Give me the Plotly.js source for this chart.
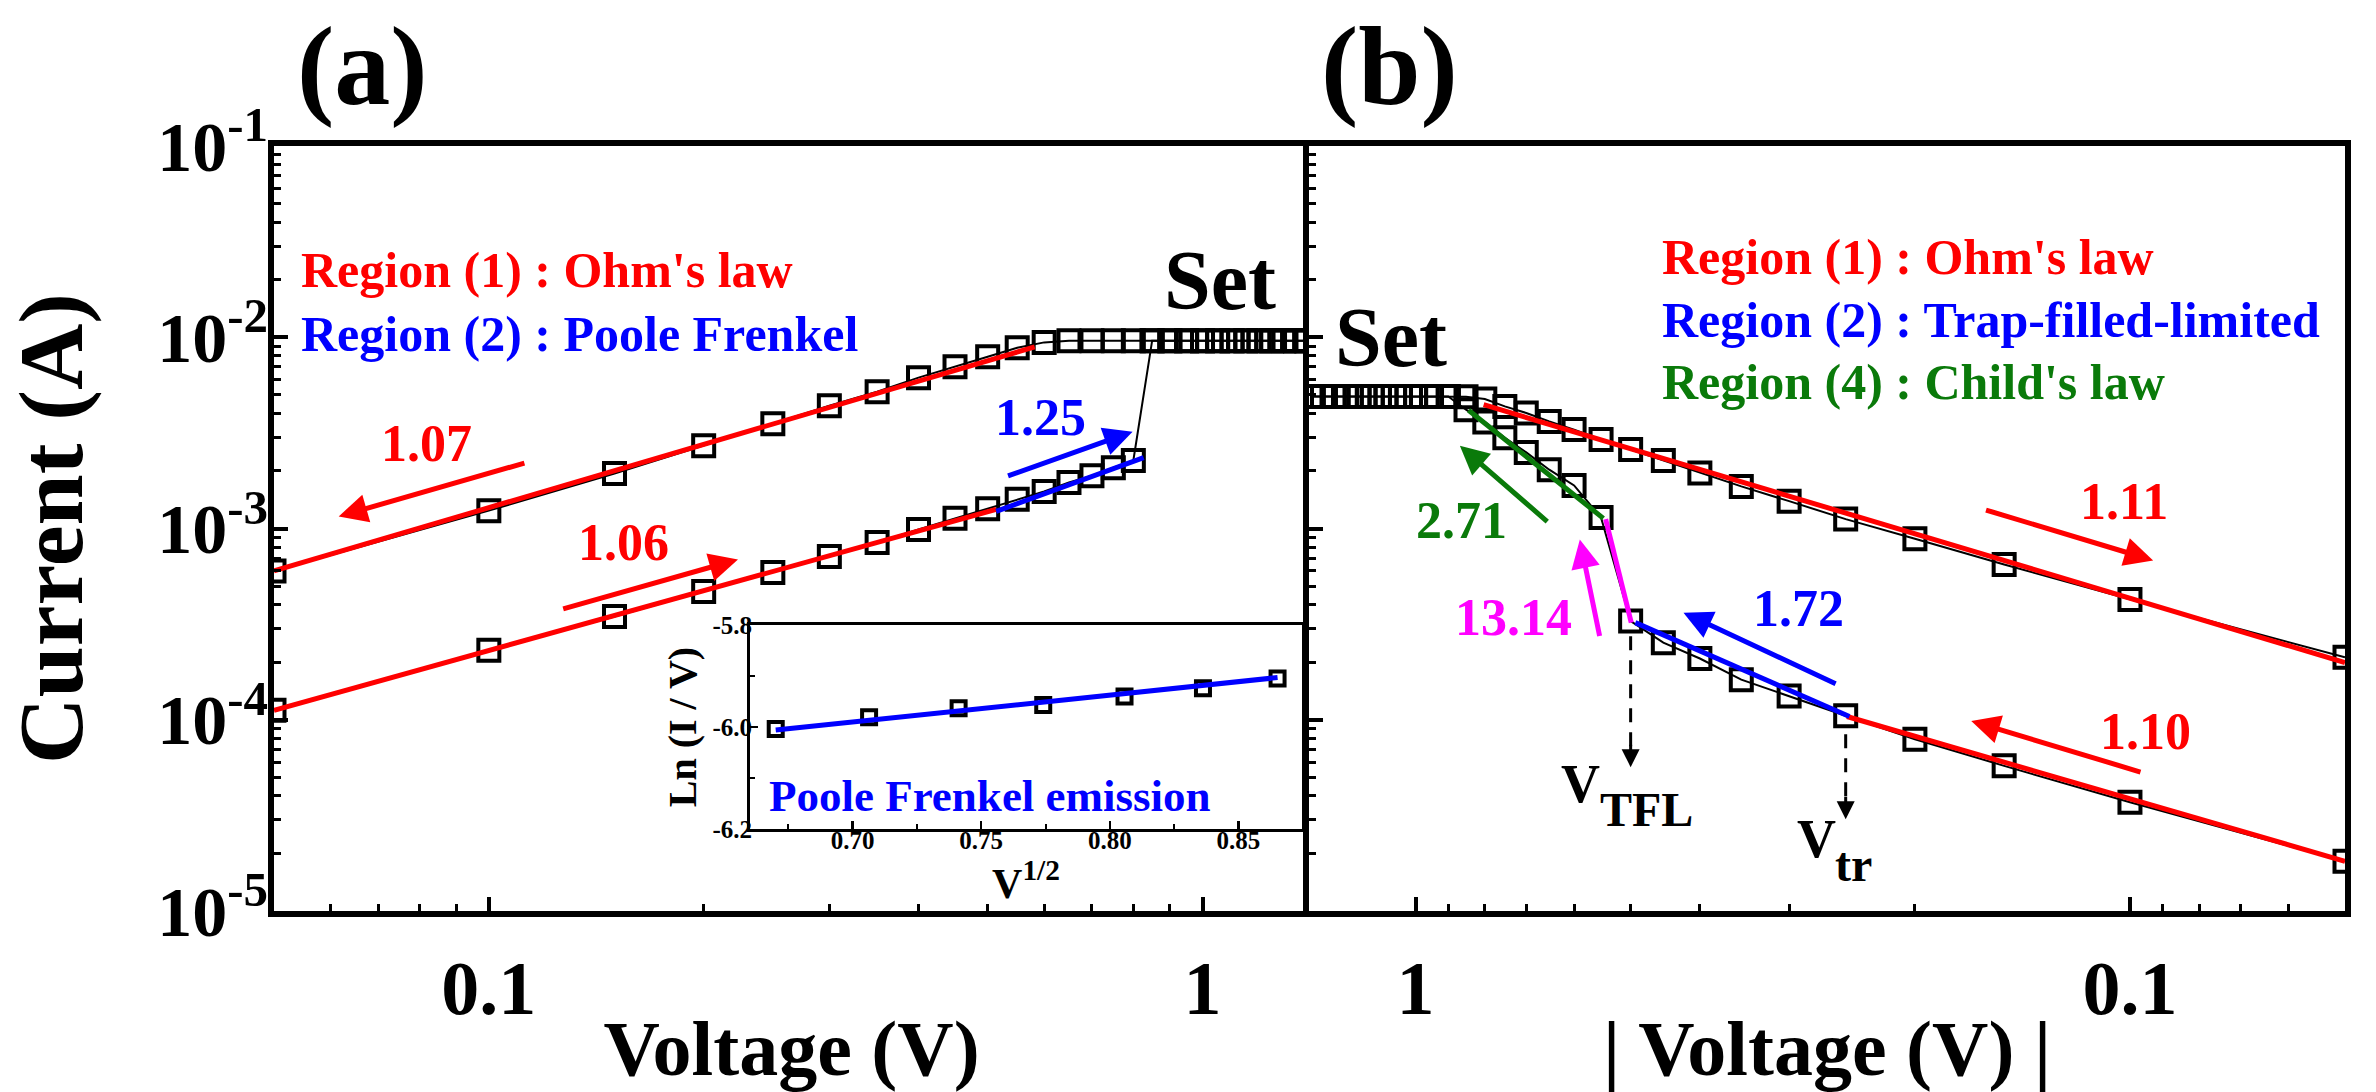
<!DOCTYPE html>
<html>
<head>
<meta charset="utf-8">
<script src="https://cdn.plot.ly/plotly-3.0.1.min.js"></script>
<style>
html,body{margin:0;padding:0;background:#ffffff;}
#chart{width:2376px;height:1092px;}
</style>
</head>
<body>
<div id="chart"></div>
<script>
// ---------------- DATA ----------------
// Panel (a): forward sweep (lower branch, then compliance at Set)
const aForwardV = [0.05,0.10,0.15,0.20,0.25,0.30,0.35,0.40,0.45,0.50,0.55,0.60,0.65,0.70,0.75,0.80,
                   0.85,0.90,0.95,1.00,1.05,1.10,1.15,1.20,1.25,1.30,1.35,1.40];
const aForwardI = [1.12e-4,2.31e-4,3.47e-4,4.69e-4,5.89e-4,7.14e-4,8.45e-4,9.88e-4,1.13e-3,1.27e-3,1.42e-3,1.56e-3,1.74e-3,1.89e-3,2.08e-3,2.27e-3,
                   9.6e-3,9.6e-3,9.6e-3,9.6e-3,9.6e-3,9.6e-3,9.6e-3,9.6e-3,9.6e-3,9.6e-3,9.6e-3,9.6e-3];
// Panel (a): reverse sweep (compliance, then upper branch)
const aReverseV = [1.40,1.35,1.30,1.25,1.20,1.15,1.10,1.05,1.00,0.95,0.90,0.85,0.80,0.75,0.70,0.65,
                   0.60,0.55,0.50,0.45,0.40,0.35,0.30,0.25,0.20,0.15,0.10,0.05];
const aReverseI = [9.6e-3,9.6e-3,9.6e-3,9.6e-3,9.6e-3,9.6e-3,9.6e-3,9.6e-3,9.6e-3,9.6e-3,9.6e-3,9.6e-3,9.6e-3,9.6e-3,9.6e-3,9.6e-3,
                   9.4e-3,8.81e-3,7.91e-3,7.02e-3,6.15e-3,5.19e-3,4.38e-3,3.53e-3,2.71e-3,1.94e-3,1.24e-3,6.0e-4];
// Panel (a) fits
const aOhmUpV = [0.05, 0.582];  const aOhmUpI = [6.0e-4, 8.9e-3];
const aOhmLowV = [0.05, 0.514]; const aOhmLowI = [1.12e-4, 1.26e-3];
const aPfV = [0.514, 0.827];    const aPfI = [1.23e-3, 2.35e-3];
// Panel (a) slope arrows: [1.07, 1.06, 1.25]
const aArrowTailV = [0.1127, 0.1265, 0.5314]; const aArrowTailI = [2.21e-3, 3.78e-4, 1.87e-3];
const aArrowHeadV = [0.0616, 0.2234, 0.798];  const aArrowHeadI = [1.156e-3, 6.89e-4, 3.21e-3];
const aArrowColor = ['#ff0000', '#ff0000', '#0000ff'];
// Inset: Poole-Frenkel plot
const insetSqrtV = [0.6701, 0.7064, 0.7412, 0.7741, 0.8057, 0.8362, 0.8652];
const insetLnIV  = [-6.004, -5.981, -5.963, -5.957, -5.940, -5.924, -5.905];
const insetFitX = [0.6701, 0.8652]; const insetFitY = [-6.006, -5.903];

// Panel (b): forward sweep (lower branch, then compliance)
const bForwardV = [0.05,0.10,0.15,0.20,0.25,0.30,0.35,0.40,0.45,0.50,0.55,0.60,0.65,0.70,0.75,0.80,0.85,
                   0.90,0.95,1.00,1.05,1.10,1.15,1.20,1.25,1.30,1.35,1.40];
const bForwardI = [1.82e-5,3.70e-5,5.74e-5,7.91e-5,1.05e-4,1.33e-4,1.62e-4,2.09e-4,2.53e-4,3.28e-4,1.14e-3,1.68e-3,2.03e-3,2.50e-3,2.98e-3,3.61e-3,4.18e-3,
                   4.9e-3,4.9e-3,4.9e-3,4.9e-3,4.9e-3,4.9e-3,4.9e-3,4.9e-3,4.9e-3,4.9e-3,4.9e-3];
// Panel (b): reverse sweep (compliance, then upper branch)
const bReverseV = [1.40,1.35,1.30,1.25,1.20,1.15,1.10,1.05,1.00,0.95,0.90,0.85,
                   0.80,0.75,0.70,0.65,0.60,0.55,0.50,0.45,0.40,0.35,0.30,0.25,0.20,0.15,0.10,0.05];
const bReverseI = [4.9e-3,4.9e-3,4.9e-3,4.9e-3,4.9e-3,4.9e-3,4.9e-3,4.9e-3,4.9e-3,4.9e-3,4.9e-3,4.88e-3,
                   4.75e-3,4.35e-3,4.02e-3,3.63e-3,3.29e-3,2.92e-3,2.59e-3,2.27e-3,1.95e-3,1.66e-3,1.39e-3,1.12e-3,8.84e-4,6.48e-4,4.26e-4,2.12e-4];
// Panel (b) fits
const bOhmUpV = [0.803, 0.05];   const bOhmUpI = [4.44e-3, 1.99e-4];
const bOhmLowV = [0.249, 0.05];  const bOhmLowI = [1.04e-4, 1.82e-5];
const bTflV = [0.4925, 0.247];   const bTflI = [3.22e-4, 1.04e-4];
const bChildV = [0.843, 0.546];  const bChildI = [4.15e-3, 1.13e-3];
const bJumpV = [0.542, 0.499];   const bJumpI = [1.12e-3, 3.22e-4];
// Panel (b) slope arrows: [2.71, 13.14, 1.72, 1.11, 1.10]
const bArrowTailV = [0.651, 0.552, 0.257, 0.1598, 0.0962];
const bArrowTailI = [1.07e-3, 2.69e-4, 1.53e-4, 1.256e-3, 5.30e-5];
const bArrowHeadV = [0.867, 0.589, 0.4217, 0.0928, 0.1668];
const bArrowHeadI = [2.71e-3, 8.77e-4, 3.63e-4, 6.81e-4, 9.86e-5];
const bArrowColor = ['#0a7a0a', '#ff00ff', '#0000ff', '#ff0000', '#ff0000'];
// Panel (b) dashed markers V_TFL and V_tr
const bVtflV = [0.5, 0.5];  const bVtflI = [2.73e-4, 6.3e-5];
const bVtrV = [0.25, 0.25]; const bVtrI = [8.4e-5, 3.4e-5];
const bDashTipI = [5.65e-5, 3.02e-5];

// Tick labels
const yTickVals = [1e-5, 1e-4, 1e-3, 1e-2, 1e-1];
const yTickText = ['10<sup>-5</sup>', '10<sup>-4</sup>', '10<sup>-3</sup>', '10<sup>-2</sup>', '10<sup>-1</sup>'];
const xTickVals = [0.1, 1];
const xTickText = ['0.1', '1'];
const xMinorVals = [0.06, 0.07, 0.08, 0.09, 0.2, 0.3, 0.4, 0.5, 0.6, 0.7, 0.8, 0.9];
const insetXTickVals = [0.70, 0.75, 0.80, 0.85];
const insetXTickText = ['0.70', '0.75', '0.80', '0.85'];
const insetXMinor = [0.675, 0.725, 0.775, 0.825];
const insetYTickVals = [-6.2, -6.0, -5.8];
const insetYTickText = ['-6.2', '-6.0', '-5.8'];
const insetYMinor = [-6.1, -5.9];

// ---------------- STYLE ----------------
const FONT = 'Liberation Serif, Times New Roman, serif';
const W = 2376, H = 1092;
const RED = '#ff0000', BLUE = '#0000ff', GREEN = '#0a7a0a', MAGENTA = '#ff00ff';
const px = v => v / W;
const py = v => 1 - v / H;
const yMinorVals = [];
for (let d = -5; d < -1; d++) for (let k = 2; k <= 9; k++) yMinorVals.push(k * Math.pow(10, d));

const markerStyle = {symbol: 'square-open', size: 21, color: '#000', line: {width: 4, color: '#000'}};
function dataTrace(x, y, xa, ya) {
  return {x, y, xaxis: xa, yaxis: ya, type: 'scatter', mode: 'lines+markers',
          line: {color: '#000', width: 2}, marker: markerStyle, hoverinfo: 'skip'};
}
function lineTrace(x, y, xa, ya, color, width, dash) {
  return {x, y, xaxis: xa, yaxis: ya, type: 'scatter', mode: 'lines',
          line: {color, width, dash: dash || 'solid'}, hoverinfo: 'skip'};
}

const traces = [
  dataTrace(aForwardV, aForwardI, 'x', 'y'),
  dataTrace(aReverseV, aReverseI, 'x', 'y'),
  lineTrace(aOhmUpV, aOhmUpI, 'x', 'y', RED, 5),
  lineTrace(aOhmLowV, aOhmLowI, 'x', 'y', RED, 5),
  lineTrace(aPfV, aPfI, 'x', 'y', BLUE, 5),
  dataTrace(bForwardV, bForwardI, 'x2', 'y2'),
  dataTrace(bReverseV, bReverseI, 'x2', 'y2'),
  lineTrace(bOhmUpV, bOhmUpI, 'x2', 'y2', RED, 5),
  lineTrace(bOhmLowV, bOhmLowI, 'x2', 'y2', RED, 5),
  lineTrace(bTflV, bTflI, 'x2', 'y2', BLUE, 5),
  lineTrace(bChildV, bChildI, 'x2', 'y2', GREEN, 5),
  lineTrace(bJumpV, bJumpI, 'x2', 'y2', MAGENTA, 5),
  lineTrace(bVtflV, bVtflI, 'x2', 'y2', '#000', 3, '14px,10px'),
  lineTrace(bVtrV, bVtrI, 'x2', 'y2', '#000', 3, '14px,10px'),
  {x: insetSqrtV, y: insetLnIV, xaxis: 'x3', yaxis: 'y3', type: 'scatter', mode: 'markers',
   marker: {symbol: 'square-open', size: 14, color: '#000', line: {width: 4, color: '#000'}}, hoverinfo: 'skip'},
  lineTrace(insetFitX, insetFitY, 'x3', 'y3', BLUE, 5)
];

const tickFontBig = {family: FONT, size: 76, color: '#000', weight: 'bold'};
const tickFontY = {family: FONT, size: 70, color: '#000', weight: 'bold'};
const minorLog = (vals) => ({tickmode: 'array', tickvals: vals, ticks: 'inside', ticklen: 7, tickwidth: 3, tickcolor: '#000', showgrid: false});

const yDomain = [1 - 911 / H, 1 - 146 / H];
const baseAxis = {showline: true, linewidth: 6, linecolor: '#000', ticks: 'inside', ticklen: 14, tickwidth: 4,
                  tickcolor: '#000', showgrid: false, zeroline: false};

const layout = {
  width: W, height: H,
  margin: {l: 0, r: 0, t: 0, b: 0, pad: 0},
  paper_bgcolor: '#ffffff', plot_bgcolor: '#ffffff',
  showlegend: false,
  xaxis: Object.assign({}, baseAxis, {
    type: 'log', domain: [px(274), px(1309)], anchor: 'y',
    range: [Math.log10(0.05), Math.log10(1.41)],
    tickmode: 'array', tickvals: xTickVals, ticktext: xTickText, tickfont: tickFontBig,
    minor: minorLog(xMinorVals), mirror: true, ticklabelstandoff: 6,
    title: {text: 'Voltage (V)', font: {family: FONT, size: 78, color: '#000', weight: 'bold'}, standoff: 0}
  }),
  yaxis: Object.assign({}, baseAxis, {
    type: 'log', domain: yDomain, anchor: 'x', range: [-5, -1],
    tickmode: 'array', tickvals: yTickVals, ticktext: yTickText, tickfont: tickFontY,
    minor: minorLog(yMinorVals), mirror: false, ticklabelstandoff: -14,
    title: {text: 'Current (A)', font: {family: FONT, size: 92, color: '#000', weight: 'bold'}, standoff: 52}
  }),
  xaxis2: Object.assign({}, baseAxis, {
    type: 'log', domain: [px(1309), px(2345)], anchor: 'y2',
    range: [Math.log10(1.41), Math.log10(0.05)],
    tickmode: 'array', tickvals: xTickVals, ticktext: xTickText, tickfont: tickFontBig,
    minor: minorLog(xMinorVals), mirror: true, ticklabelstandoff: 6,
    title: {text: '| Voltage (V) |', font: {family: FONT, size: 78, color: '#000', weight: 'bold'}, standoff: 0}
  }),
  yaxis2: Object.assign({}, baseAxis, {
    type: 'log', domain: yDomain, anchor: 'x2', range: [-5, -1],
    tickmode: 'array', tickvals: yTickVals, ticktext: yTickText, showticklabels: false,
    minor: minorLog(yMinorVals), mirror: true
  }),
  xaxis3: {
    domain: [px(750), px(1302)], anchor: 'y3', range: [0.6601, 0.8747],
    showline: true, linewidth: 3, linecolor: '#000', mirror: true, showgrid: false, zeroline: false,
    ticks: 'inside', ticklen: 8, tickwidth: 2.5, tickcolor: '#000',
    tickmode: 'array', tickvals: insetXTickVals, ticktext: insetXTickText,
    tickfont: {family: FONT, size: 25, color: '#000', weight: 'bold'}, ticklabelstandoff: -13,
    minor: {tickmode: 'array', tickvals: insetXMinor, ticks: 'inside', ticklen: 5, tickwidth: 2, tickcolor: '#000', showgrid: false},
    title: {text: 'V<sup>1/2</sup>', font: {family: FONT, size: 42, color: '#000', weight: 'bold'}, standoff: 0}
  },
  yaxis3: {
    domain: [1 - 829 / H, 1 - 625 / H], anchor: 'x3', range: [-6.2, -5.8],
    showline: true, linewidth: 3, linecolor: '#000', mirror: true, showgrid: false, zeroline: false,
    ticks: 'inside', ticklen: 8, tickwidth: 2.5, tickcolor: '#000',
    tickmode: 'array', tickvals: insetYTickVals, ticktext: insetYTickText,
    tickfont: {family: FONT, size: 25, color: '#000', weight: 'bold'}, ticklabelstandoff: -10,
    minor: {tickmode: 'array', tickvals: insetYMinor, ticks: 'inside', ticklen: 5, tickwidth: 2, tickcolor: '#000', showgrid: false},
    title: {text: 'Ln (I / V)', font: {family: FONT, size: 40, color: '#000', weight: 'bold'}, standoff: 4}
  },
  annotations: []
};

function txt(text, x, y, size, color, xanchor) {
  return {text, x: px(x), y: py(y), xref: 'paper', yref: 'paper', showarrow: false,
          xanchor: xanchor || 'center', yanchor: 'middle',
          font: {family: FONT, size, color: color || '#000', weight: 'bold'}};
}
function arrows(tailV, tailI, headV, headI, colors, xa, ya) {
  return tailV.map((v, i) => ({
    x: Math.log10(headV[i]), y: Math.log10(headI[i]),
    ax: Math.log10(v), ay: Math.log10(tailI[i]),
    xref: xa, yref: ya, axref: xa, ayref: ya,
    showarrow: true, text: '', arrowhead: 2, arrowsize: 1.15, arrowwidth: 5,
    arrowcolor: colors[i], standoff: 0, startstandoff: 0
  }));
}

const ann = layout.annotations;
ann.push(txt('(a)', 362, 66, 112));
ann.push(txt('(b)', 1389, 66, 112));
ann.push(txt("Region (1) : Ohm's law", 299, 270, 50, RED, 'left'));
ann.push(txt('Region (2) : Poole Frenkel', 299, 334, 50, BLUE, 'left'));
ann.push(txt('Set', 1220, 280, 84));
ann.push(txt('1.07', 426, 443, 52, RED));
ann.push(txt('1.06', 623, 542, 52, RED));
ann.push(txt('1.25', 1040, 417, 52, BLUE));
ann.push(txt('Poole Frenkel emission', 767, 796, 45, BLUE, 'left'));
ann.push(txt("Region (1) : Ohm's law", 1660, 257, 50, RED, 'left'));
ann.push(txt('Region (2) : Trap-filled-limited', 1660, 320, 50, BLUE, 'left'));
ann.push(txt("Region (4) : Child's law", 1660, 382, 50, GREEN, 'left'));
ann.push(txt('Set', 1391, 337, 84));
ann.push(txt('2.71', 1461, 520, 52, GREEN));
ann.push(txt('13.14', 1513, 617, 52, MAGENTA));
ann.push(txt('1.72', 1798, 608, 52, BLUE));
ann.push(txt('1.11', 2124, 502, 52, RED));
ann.push(txt('1.10', 2145, 731, 52, RED));
ann.push(txt('V', 1580, 784, 54));
ann.push(txt('TFL', 1646, 809, 48));
ann.push(txt('V', 1816, 839, 54));
ann.push(txt('tr', 1853, 864, 48));
arrows(aArrowTailV, aArrowTailI, aArrowHeadV, aArrowHeadI, aArrowColor, 'x', 'y').forEach(a => ann.push(a));
arrows(bArrowTailV, bArrowTailI, bArrowHeadV, bArrowHeadI, bArrowColor, 'x2', 'y2').forEach(a => ann.push(a));
// small heads of the dashed V_TFL / V_tr markers
[bVtflV[0], bVtrV[0]].forEach((v, i) => ann.push({
  x: Math.log10(v), y: Math.log10(bDashTipI[i]), xref: 'x2', yref: 'y2',
  ax: 0, ay: -24, showarrow: true, text: '', arrowhead: 2, arrowsize: 1.2, arrowwidth: 3,
  arrowcolor: '#000', standoff: 0
}));

Plotly.newPlot('chart', traces, layout, {displayModeBar: false, staticPlot: true});
</script>
</body>
</html>
